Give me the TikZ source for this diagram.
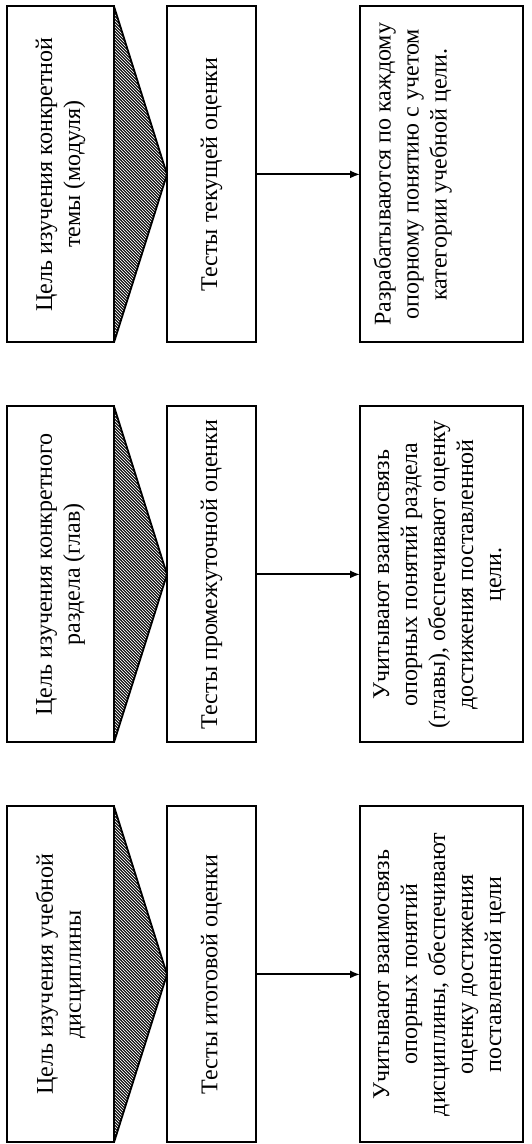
\documentclass[tikz,border=0pt]{standalone}
\usepackage{fontspec}
\setmainfont{Liberation Serif}
\usetikzlibrary{arrows.meta,positioning,calc}
\newcommand{\desctext}[1]{\parbox[c][68pt][t]{160pt}{\centering #1}}

\begin{document}
\begin{tikzpicture}[
        rotate=90, transform shape,
        box/.style={draw, line width=0.9pt, outer sep=0pt, minimum width=168pt, align=center,
            font=\fontsize{12}{14}\selectfont},
        goalbox/.style={box, minimum height=53.5pt},
        testbox/.style={box, minimum height=44.5pt},
        descbox/.style={box, minimum height=81.5pt, inner sep=0pt},
        >={Latex[length=5pt,width=4pt]}
    ]
    \useasboundingbox (0,0) rectangle (572pt,-265.5pt);

    % goals
    \node[goalbox] (goaldisc) at (84.8pt,-30.25pt) {Цель изучения учебной\\дисциплины};
    \node[goalbox, right=32pt of goaldisc] (goalsect) {Цель изучения конкретного\\раздела (глав)};
    \node[goalbox, right=32pt of goalsect] (goaltopic) {Цель изучения конкретной\\темы (модуля)};

    % tests
    \node[testbox, below=26.5pt of goaldisc] (testdisc) {Тесты итоговой оценки};
    \node[testbox, below=26.5pt of goalsect] (testsect) {Тесты промежуточной оценки};
    \node[testbox, below=26.5pt of goaltopic] (testtopic) {Тесты текущей оценки};

    % descriptions
    \node[descbox, below=52pt of testdisc] (descdisc) {\desctext{Учитывают взаимосвязь\\опорных понятий\\дисциплины, обеспечивают\\оценку достижения\\поставленной цели}};
    \node[descbox, below=52pt of testsect] (descsect) {\desctext{Учитывают взаимосвязь\\опорных понятий раздела\\(главы), обеспечивают оценку\\достижения поставленной\\цели.}};
    \node[descbox, below=52pt of testtopic] (desctopic) {\desctext{Разрабатываются по каждому\\опорному понятию с учетом\\категории учебной цели.}};

    \foreach \col in {disc,sect,topic} {
        \begin{scope}
            \clip (goal\col.south west) -- (test\col.north) -- (goal\col.south east) -- cycle;
            \foreach \k in {-20,...,115}
                \draw[line width=0.55pt] ($(goal\col.south west)+(\k*1.5pt,-30pt)$) -- ++(32pt,32pt);
        \end{scope}
        \draw[line width=0.9pt] (goal\col.south west) -- (test\col.north) -- (goal\col.south east);
        \draw[->, line width=0.9pt] (test\col) -- (desc\col);
    }
\end{tikzpicture}
\end{document}
